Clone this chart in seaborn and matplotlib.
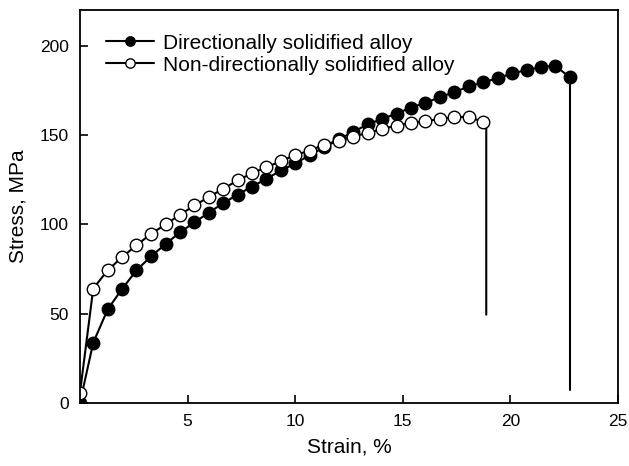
import matplotlib
matplotlib.use("Agg")
import matplotlib.pyplot as plt
import seaborn as sns
import pandas as pd

sns.set_style("ticks", {"axes.edgecolor": "black", "text.color": "black",
                        "axes.labelcolor": "black", "xtick.color": "black",
                        "ytick.color": "black"})
plt.rcParams['font.family'] = ['Liberation Sans', 'DejaVu Sans']

# Strain (%) sample points
strain_ds = [0.0, 0.62, 1.29, 1.96, 2.63, 3.30, 3.98, 4.65, 5.32, 5.99, 6.66, 7.33,
             8.00, 8.67, 9.34, 10.01, 10.69, 11.36, 12.03, 12.70, 13.37, 14.04,
             14.71, 15.38, 16.05, 16.72, 17.39, 18.07, 18.74, 19.41, 20.08, 20.75,
             21.42, 22.09, 22.76]
stress_ds = [0.0, 33.8, 52.4, 63.9, 74.3, 82.1, 89.0, 95.6, 101.1, 106.6, 111.9, 116.7,
             121.2, 125.5, 130.2, 134.1, 138.9, 143.2, 147.6, 151.8, 156.0, 159.0,
             162.0, 165.4, 168.0, 171.2, 174.0, 177.2, 179.6, 181.8, 184.5, 186.4,
             188.0, 188.8, 182.3]
# fracture drop of the directionally solidified alloy
strain_ds_tail = [22.76, 22.76]
stress_ds_tail = [182.3, 7.3]

strain_nds = [0.0, 0.62, 1.29, 1.96, 2.63, 3.30, 3.98, 4.65, 5.32, 5.99, 6.66, 7.33,
              8.00, 8.67, 9.34, 10.01, 10.69, 11.36, 12.03, 12.70, 13.37, 14.04,
              14.71, 15.38, 16.05, 16.72, 17.39, 18.07, 18.74]
stress_nds = [5.4, 64.1, 74.3, 81.7, 88.3, 94.7, 100.0, 105.4, 110.6, 115.3, 120.0, 124.6,
              128.7, 132.0, 135.4, 138.9, 141.3, 144.7, 146.9, 149.2, 151.2, 153.4,
              155.3, 156.8, 157.7, 159.0, 160.0, 160.3, 157.2]
strain_nds_tail = [18.74, 18.88, 18.88]
stress_nds_tail = [157.2, 154.0, 49.5]

labels = ["Directionally solidified alloy", "Non-directionally solidified alloy"]
x_ticks = [5, 10, 15, 20, 25]
y_ticks = [0, 50, 100, 150, 200]

fig = plt.figure(figsize=(6.29, 4.66), dpi=100)
ax = fig.add_axes([0.127, 0.135, 0.8555, 0.8435])

lw = 1.5
sns.lineplot(x=strain_ds_tail, y=stress_ds_tail, ax=ax, color="black", lw=lw,
             sort=False, estimator=None)
sns.lineplot(x=strain_nds_tail, y=stress_nds_tail, ax=ax, color="black", lw=lw,
             sort=False, estimator=None)
sns.lineplot(x=strain_ds, y=stress_ds, ax=ax, color="black", lw=lw, sort=False,
             estimator=None, marker="o", markersize=9, markerfacecolor="black",
             markeredgecolor="black", markeredgewidth=1.0, label=labels[0])
sns.lineplot(x=strain_nds, y=stress_nds, ax=ax, color="black", lw=lw, sort=False,
             estimator=None, marker="o", markersize=9, markerfacecolor="white",
             markeredgecolor="black", markeredgewidth=1.0, label=labels[1])

ax.set_xlim(0, 25)
ax.set_ylim(0, 220)
ax.set_xticks(x_ticks)
ax.set_yticks(y_ticks)
ax.tick_params(direction="in", length=6, width=1.2, labelsize=12.5, pad=8,
               top=False, right=False, colors="black")
for s in ax.spines.values():
    s.set_visible(True)
    s.set_linewidth(1.3)
    s.set_color("black")
ax.set_xlabel("Strain, %", fontsize=15, labelpad=6, color="black")
ax.set_ylabel("Stress, MPa", fontsize=15, labelpad=9, color="black")

ax.legend(loc="upper left", bbox_to_anchor=(0.048, 0.94), frameon=False,
          fontsize=15, handlelength=2.3, handletextpad=0.45, labelspacing=0.15,
          borderpad=0, borderaxespad=0, markerscale=0.75)

fig.savefig("out.png", dpi=100)
